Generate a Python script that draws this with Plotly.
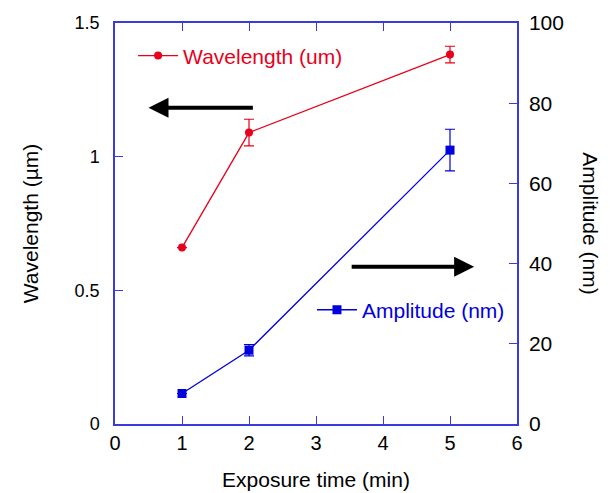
import plotly.graph_objects as go

exposure = [1, 2, 5]
wavelength = [0.66, 1.09, 1.382]
wavelength_err = [0.0, 0.05, 0.031]
amplitude = [7.6, 18.4, 68.3]
amplitude_err = [0.0, 1.4, 5.2]

RED = "#e8001c"
BLUE = "#0000dd"
AXC = "#3a3ae0"
FONT = "Liberation Sans, Arial, sans-serif"

fig = go.Figure()
fig.add_trace(go.Scatter(
    x=exposure, y=wavelength, name="Wavelength (um)", mode="lines+markers",
    line=dict(color=RED, width=1.3), marker=dict(symbol="circle", size=8, color=RED),
    error_y=dict(type="data", array=wavelength_err, color=RED, thickness=1.2, width=5),
    legend="legend"))
fig.add_trace(go.Scatter(
    x=exposure, y=amplitude, name="Amplitude (nm)", mode="lines+markers", yaxis="y2",
    line=dict(color=BLUE, width=1.3), marker=dict(symbol="square", size=9, color=BLUE),
    error_y=dict(type="data", array=amplitude_err, color=BLUE, thickness=1.2, width=5),
    legend="legend2"))

axis_common = dict(showgrid=False, zeroline=False, ticks="inside", ticklen=8, automargin=False,
                   tickcolor=AXC, linecolor=AXC, linewidth=1.5, showline=True)

fig.update_layout(
    width=610, height=493, plot_bgcolor="white", paper_bgcolor="white",
    margin=dict(l=115, r=93, t=23, b=69),
    font=dict(family=FONT, color="black"),
    xaxis=dict(range=[0, 6], dtick=1, mirror="ticks",
               tickfont=dict(family=FONT, size=20, color="black"),
               title=dict(text="Exposure time (min)", font=dict(family=FONT, size=21), standoff=20),
               **axis_common),
    yaxis=dict(range=[0, 1.5], tickvals=[0, 0.5, 1, 1.5], ticktext=["0", "0.5", "1", "1.5"],
               tickfont=dict(family=FONT, size=18, color="black"),
               title=dict(text="Wavelength (µm)", font=dict(family=FONT, size=21), standoff=30),
               ticklabelstandoff=10, **axis_common),
    yaxis2=dict(range=[0, 100], dtick=20, overlaying="y", side="right",
                tickfont=dict(family=FONT, size=21, color="black"),
                ticklabelstandoff=6, **axis_common),
    legend=dict(x=0.045, y=0.918, xanchor="left", yanchor="middle", bgcolor="rgba(0,0,0,0)",
                font=dict(family=FONT, size=21, color=RED), itemwidth=40),
    legend2=dict(x=0.49, y=0.284, xanchor="left", yanchor="middle", bgcolor="rgba(0,0,0,0)",
                 font=dict(family=FONT, size=21, color=BLUE), itemwidth=40),
    showlegend=True,
)

fig.add_annotation(text="Amplitude (nm)", textangle=90, xref="paper", yref="paper",
                   x=1.182, y=0.5, xanchor="center", yanchor="middle", showarrow=False,
                   font=dict(family=FONT, size=21, color="black"))

fig.add_annotation(x=0.5, y=1.183, ax=2.08, ay=1.183, xref="x", yref="y", axref="x", ayref="y",
                   text="", showarrow=True, arrowhead=2, arrowsize=1, arrowwidth=4, arrowcolor="black")
fig.add_annotation(x=5.36, y=39.2, ax=3.51, ay=39.2, xref="x", yref="y2", axref="x", ayref="y2",
                   text="", showarrow=True, arrowhead=2, arrowsize=1, arrowwidth=4, arrowcolor="black")

fig.write_html("out.html")
